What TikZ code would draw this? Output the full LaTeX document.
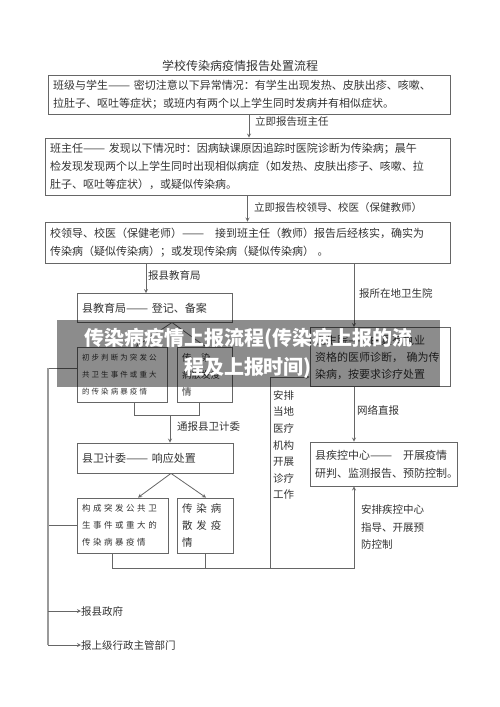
\documentclass[tikz,border=0pt]{standalone}
\usepackage{fontspec}
\setmainfont{Noto Sans CJK SC}
\definecolor{linegray}{HTML}{666666}
\definecolor{bargray}{HTML}{9A9A9A}
\definecolor{inkgray}{HTML}{333333}
\newcommand\ldash{\scalebox{1.2}[1]{——}}

\begin{document}
\begin{tikzpicture}[
                x = 1pt, y = -1pt,
                > = stealth,
                box/.style={ rectangle, draw = linegray, line width = .8pt, align = left, inner sep = 5pt,
                             text = inkgray, font = \fontsize{11}{18}\selectfont },
                small/.style={ box, font = \fontsize{7.5}{17}\selectfont\addfontfeature{LetterSpace=28} },
                lbl/.style={ anchor = west, inner sep = 0pt, text = inkgray, font = \fontsize{10.5}{17}\selectfont },
                line/.style={ draw = linegray, line width = .8pt },
                barline/.style={ draw = bargray, line width = 1.3pt }
            ]
            \useasboundingbox (0, 0) rectangle (500, 707);

            \node (title) [text = inkgray, font = \fontsize{12}{14}\selectfont] at (240, 66) {学校传染病疫情报告处置流程};

            \node (cls)  [box, text width = 392pt, minimum height = 38pt] at (249, 95)
                {班级与学生\ldash\ 密切注意以下异常情况：有学生出现发热、皮肤出疹、咳嗽、\\拉肚子、呕吐等症状；或班内有两个以上学生同时发病并有相似症状。};
            \node (tch)  [box, text width = 395pt, minimum height = 57pt] at (247.5, 166.5)
                {班主任\ldash\ 发现以下情况时：因病缺课原因追踪时医院诊断为传染病；晨午\\检发现发现两个以上学生同时出现相似病症（如发热、皮肤出疹子、咳嗽、拉\\肚子、呕吐等症状），或疑似传染病。};
            \node (lead) [box, text width = 395pt, minimum height = 41pt] at (247.5, 242.5)
                {校领导、校医（保健老师）\ldash\quad 接到班主任（教师）报告后经核实，确实为\\传染病（疑似传染病）；或发现传染病（疑似传染病）\ 。};
            \node (edu)  [box, text width = 145pt, minimum height = 29pt] at (154.5, 308)
                {县教育局\ldash\ 登记、备案};
            \node (early) [small, text width = 80pt, minimum height = 55pt] at (122, 374.5)
                {初步判断为突发公\\共卫生事件或重大\\的传染病暴疫情};
            \node (spor1) [box, text width = 45pt, minimum height = 55pt, font = \fontsize{9.5}{17}\selectfont] at (204.5, 374.5)
                {传\quad 染\\病散发疫\\情};
            \node (wsy)  [box, text width = 130pt, minimum height = 59pt, font = \fontsize{11}{17}\selectfont] at (380, 357)
                {卫生院\ldash 由具有执业\\资格的医师诊断，\ 确为传\\染病，按要求诊疗处置};
            \node (wjw)  [box, text width = 146pt, minimum height = 30pt] at (155, 458)
                {县卫计委\ldash\ 响应处置};
            \node (burst) [small, text width = 81pt, minimum height = 55pt, font = \fontsize{8.5}{17}\selectfont\addfontfeature{LetterSpace=30}] at (122.5, 525.5)
                {构成突发公共卫\\生事件或重大的\\传染病暴疫情};
            \node (spor2) [box, text width = 46pt, minimum height = 55pt, font = \fontsize{10.5}{17}\selectfont\addfontfeature{LetterSpace=38}] at (205, 525.5)
                {传染病\\散发疫\\情};
            \node (cdc)  [box, text width = 137pt, minimum height = 44pt, font = \fontsize{11}{18}\selectfont] at (383.5, 464)
                {县疾控中心\ldash\quad 开展疫情\\研判、监测报告、预防控制。};

            % labels on the connectors
            \node (l1) [lbl] at (255, 122) {立即报告班主任};
            \node (l2) [lbl] at (254, 208) {立即报告校领导、校医（保健教师）};
            \node (l3) [lbl] at (148, 275) {报县教育局};
            \node (l4) [lbl] at (359, 293) {报所在地卫生院};
            \node (l5) [lbl] at (177, 427) {通报县卫计委};
            \node (l6) [lbl] at (357, 410) {网络直报};
            \node (l7) [lbl, align = left, font = \fontsize{10.5}{16.6}\selectfont] at (273, 445)
                {安排\\当地\\医疗\\机构\\开展\\诊疗\\工作};
            \node (l8) [lbl, align = left, font = \fontsize{10.5}{17.5}\selectfont] at (361, 527)
                {安排疾控中心\\指导、开展预\\防控制};
            \node (gov) [lbl] at (81, 611) {报县政府};
            \node (sup) [lbl] at (81, 645) {报上级行政主管部门};

            \coordinate (xedu) at (146, 0);
            \coordinate (xwsy) at (354, 0);
            \coordinate (ef)   at (172, 322.5);
            \coordinate (jn)   at (170, 415);
            \coordinate (med)  at (270, 568);
            \coordinate (bar)  at (48, 368);

            \draw [line, ->] (cls.south) -- (cls.south |- tch.north);
            \draw [line, ->] (tch.south) -- (tch.south |- lead.north);
            \draw [line, ->] (lead.south -| xedu) -- (edu.north -| xedu);
            \draw [line, ->] (lead.south -| xwsy) -- (wsy.north -| xwsy);
            \draw [line, ->] (wsy.south -| xwsy) -- (cdc.north -| xwsy);

            \draw [line, ->] (ef) -- ([xshift=14pt]early.north);
            \draw [line, ->] (ef) -- ([xshift=1pt]spor1.north);
            \draw [line] ([xshift=12pt]early.south) -- ++(0, 13) -| ([xshift=-5.5pt]spor1.south);
            \draw [line, ->] (jn) -- (wjw.north -| jn);

            \draw [line, ->] ([xshift=16pt]wjw.south) -- ([xshift=15.5pt]burst.north);
            \draw [line, ->] ([xshift=16pt]wjw.south) -- ([xshift=1pt]spor2.north);
            \draw [line, ->] ([xshift=-10.5pt]burst.south) -- ++(0, 15) -| ([xshift=-29.5pt]cdc.south);
            \draw [line] (spor2.south) -- ++(0, 15);
            \draw [line, ->] (med) |- ([yshift=-20pt]wsy.west);

            \draw [line] ([yshift=6.5pt]early.west) -- (bar);
            \draw [line] (burst.west) -- (burst.west -| bar);
            \draw [barline] (bar) -- (bar |- sup.west);
            \draw [line, ->] (bar |- gov.west) -- (gov.west);
            \draw [line, ->] (bar |- sup.west) -- (sup.west);

            % overlay banner
            \fill [black, fill opacity = .45] (57, 320) rectangle (440, 387);
            \node (banner) [text = white, align = center, font = \fontsize{20}{29}\selectfont\bfseries] at (248, 353)
                {传染病疫情上报流程(传染病上报的流\\程及上报时间)};
        \end{tikzpicture}
\end{document}
